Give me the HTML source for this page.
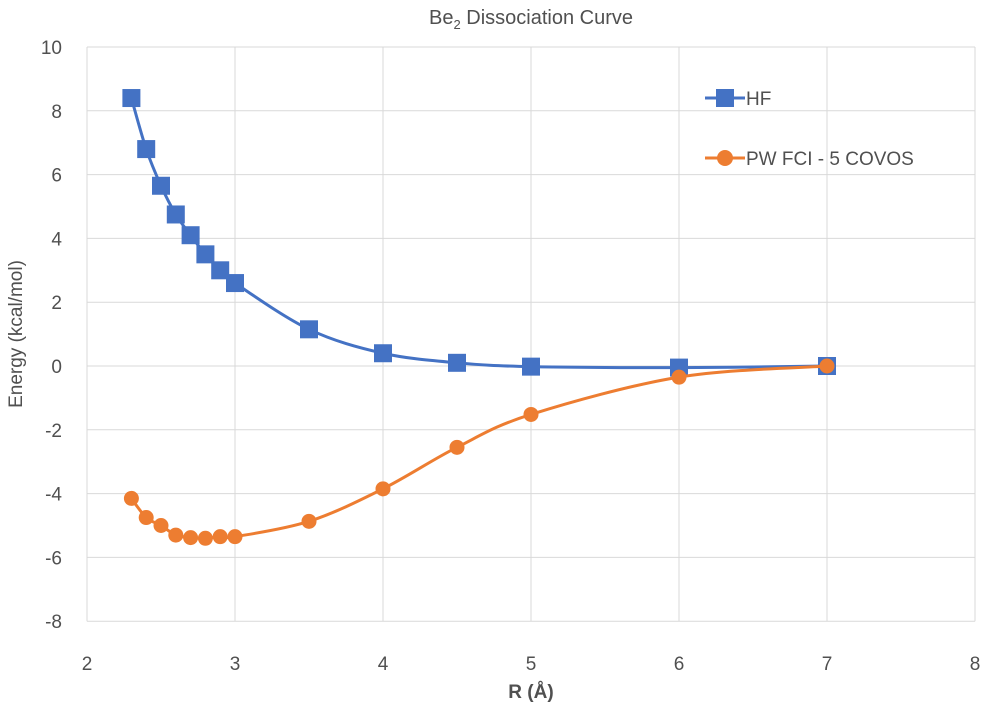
<!DOCTYPE html>
<html><head><meta charset="utf-8"><style>
body{margin:0;background:#fff;font-family:"Liberation Sans",sans-serif;}
svg text{font-family:"Liberation Sans",sans-serif;fill:#505050;}
</style></head><body>
<svg id="chart" width="986" height="710" xmlns="http://www.w3.org/2000/svg">
<text x="531" y="24" font-size="20" text-anchor="middle">Be<tspan font-size="13" dy="5">2</tspan><tspan dy="-5"> Dissociation Curve</tspan></text>
<g id="grid"></g><g id="ticks"></g><g id="series"></g>
<text x="531" y="698" font-size="19" font-weight="bold" text-anchor="middle">R (Å)</text>
<text transform="translate(22,334) rotate(-90)" font-size="19" text-anchor="middle">Energy (kcal/mol)</text>
<g>
<g>
<line x1="705" y1="98" x2="745" y2="98" stroke="#4472C4" stroke-width="3"/>
<rect x="716" y="89" width="18" height="18" fill="#4472C4"/>
<text x="746" y="105" font-size="19">HF</text></g>
<g>
<line x1="705" y1="158" x2="745" y2="158" stroke="#ED7D31" stroke-width="3"/>
<circle cx="725" cy="158" r="8" fill="#ED7D31"/>
<text x="746" y="165" font-size="19">PW FCI - 5 COVOS</text></g>
</g>
</svg>
<script>
const xTicks=[2,3,4,5,6,7,8];
const yTicks=[-8,-6,-4,-2,0,2,4,6,8,10];
const rValues=[2.3,2.4,2.5,2.6,2.7,2.8,2.9,3.0,3.5,4,4.5,5,6,7];
const hfValues=[8.4,6.8,5.65,4.75,4.1,3.5,3.0,2.6,1.15,0.4,0.1,-0.02,-0.05,0];
const fciValues=[-4.15,-4.75,-5.0,-5.3,-5.38,-5.4,-5.35,-5.35,-4.87,-3.85,-2.55,-1.52,-0.35,0];
const X=v=>87+(v-2)*148, Y=v=>366-v*31.9;
const NS="http://www.w3.org/2000/svg";
function mk(t,a,p){const e=document.createElementNS(NS,t);for(const k in a)e.setAttribute(k,a[k]);p.appendChild(e);return e;}
const grid=document.getElementById('grid'),ticks=document.getElementById('ticks'),series=document.getElementById('series');
xTicks.forEach(v=>{
const l=mk('line',{x1:X(v),x2:X(v),y1:Y(10),y2:Y(-8),stroke:'#d9d9d9','stroke-width':1},grid);


const t=mk('text',{x:X(v),y:670,'font-size':19,'text-anchor':'middle'},ticks);t.textContent=v;


});
yTicks.forEach(v=>{
const l=mk('line',{x1:X(2),x2:X(8),y1:Y(v),y2:Y(v),stroke:'#d9d9d9','stroke-width':1},grid);


const t=mk('text',{x:62,y:Y(v)+7,'font-size':19,'text-anchor':'end'},ticks);t.textContent=v;


});
function smooth(pts){let d='M'+pts[0][0]+','+pts[0][1];
for(let i=0;i<pts.length-1;i++){const p0=pts[i-1]||pts[i],p1=pts[i],p2=pts[i+1],p3=pts[i+2]||p2;
d+=' C'+(p1[0]+(p2[0]-p0[0])/6)+','+(p1[1]+(p2[1]-p0[1])/6)+' '+(p2[0]-(p3[0]-p1[0])/6)+','+(p2[1]-(p3[1]-p1[1])/6)+' '+p2[0]+','+p2[1];}
return d;}
function draw(vals,color,name,square){
const pts=rValues.map((r,i)=>[X(r),Y(vals[i])]);
const p=mk('path',{d:smooth(pts),fill:'none',stroke:color,'stroke-width':3},series);


pts.forEach(q=>{let m;
if(square)m=mk('rect',{x:q[0]-9,y:q[1]-9,width:18,height:18,fill:color},series);
else m=mk('circle',{cx:q[0],cy:q[1],r:7.5,fill:color},series);


});}
draw(hfValues,'#4472C4','hf',true);
draw(fciValues,'#ED7D31','pw-fci',false);
</script>
</body></html>
